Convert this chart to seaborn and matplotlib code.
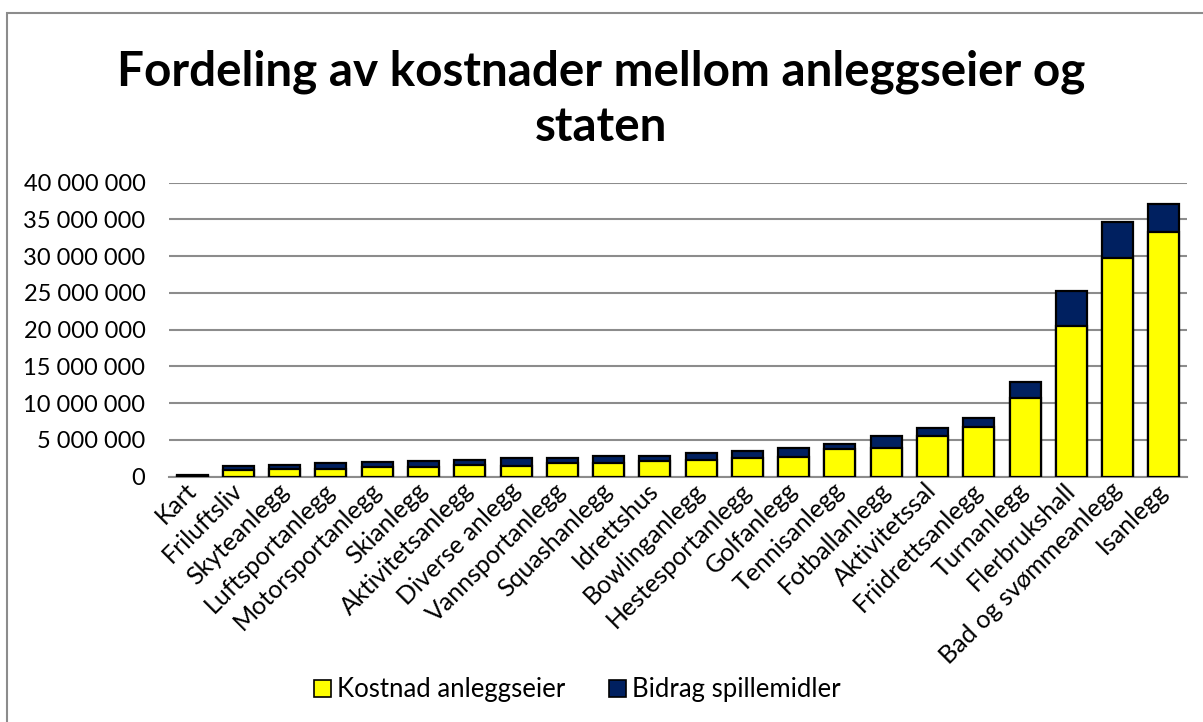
import matplotlib
matplotlib.use("Agg")
import matplotlib.pyplot as plt
import matplotlib.patches as mpatches
from matplotlib.ticker import FuncFormatter
import seaborn as sns
import pandas as pd

categories = ["Kart", "Friluftsliv", "Skyteanlegg", "Luftsportanlegg", "Motorsportanlegg",
              "Skianlegg", "Aktivitetsanlegg", "Diverse anlegg", "Vannsportanlegg",
              "Squashanlegg", "Idrettshus", "Bowlinganlegg", "Hestesportanlegg", "Golfanlegg",
              "Tennisanlegg", "Fotballanlegg", "Aktivitetssal", "Friidrettsanlegg",
              "Turnanlegg", "Flerbrukshall", "Bad og svømmeanlegg", "Isanlegg"]
kostnad_anleggseier = [150000, 870000, 1060000, 1100000, 1330000, 1380000, 1610000, 1510000,
                       1930000, 1930000, 2140000, 2250000, 2570000, 2700000, 3740000, 3870000,
                       5500000, 6720000, 10640000, 20500000, 29750000, 33300000]
bidrag_spillemidler = [100000, 640000, 500000, 730000, 730000, 780000, 730000, 970000,
                       680000, 820000, 710000, 1040000, 940000, 1170000, 760000, 1630000,
                       1170000, 1310000, 2220000, 4770000, 4950000, 3800000]

YELLOW = "#FFFF00"
NAVY = "#002060"

df = pd.DataFrame({"kategori": categories,
                   "kostnad": kostnad_anleggseier,
                   "bidrag": bidrag_spillemidler})
df["total"] = df["kostnad"] + df["bidrag"]

sns.set_theme(style="white")
plt.rcParams["font.family"] = ["Lato", "DejaVu Sans"]
plt.rcParams["text.color"] = "black"
plt.rcParams["xtick.color"] = "black"
plt.rcParams["ytick.color"] = "black"

fig = plt.figure(figsize=(12.03, 7.22), dpi=100)
ax = fig.add_axes([169/1203, 1-476.7/722, (1187-169)/1203, (476.7-182.7)/722])

sns.barplot(data=df, x="kategori", y="total", color=NAVY, saturation=1, width=0.67,
            edgecolor="black", linewidth=1.6, ax=ax, zorder=3)
sns.barplot(data=df, x="kategori", y="kostnad", color=YELLOW, saturation=1, width=0.67,
            edgecolor="black", linewidth=1.6, ax=ax, zorder=4)

ax.set_ylim(0, 40000000)
ax.set_yticks(range(0, 40000001, 5000000))
ax.yaxis.set_major_formatter(FuncFormatter(lambda v, p: f"{int(v):,}".replace(",", " ")))
ax.set_xlim(-0.5, len(categories) - 0.5)
ax.grid(axis="y", color="#8c8c8c", linewidth=1.5, zorder=0)
ax.set_axisbelow(True)
for s in ["top", "right", "left"]:
    ax.spines[s].set_visible(False)
ax.spines["bottom"].set_color("#8c8c8c")
ax.spines["bottom"].set_linewidth(1.5)
ax.set_xlabel("")
ax.set_ylabel("")
ax.tick_params(axis="y", labelsize=17, pad=17, colors="black", length=0)
ax.tick_params(axis="x", labelsize=18, pad=7, length=0, colors="black")
plt.setp(ax.get_xticklabels(), rotation=45, ha="right", va="center", rotation_mode="anchor")

fig.text(0.5, 1-72/722, "Fordeling av kostnader mellom anleggseier og", ha="center", va="center",
         fontsize=34.3, fontweight="bold", color="black")
fig.text(0.5, 1-127/722, "staten", ha="center", va="center", fontsize=34.3, fontweight="bold",
         color="black")

handles = [mpatches.Patch(facecolor=YELLOW, edgecolor="black", linewidth=1.2, label="Kostnad anleggseier"),
           mpatches.Patch(facecolor=NAVY, edgecolor="black", linewidth=1.2, label="Bidrag spillemidler")]
fig.legend(handles=handles, loc="center", bbox_to_anchor=(0.48, 1-690/722), ncol=2, frameon=False,
           fontsize=18.5, handlelength=0.65, handleheight=0.65, handletextpad=0.25,
           columnspacing=1.7, labelcolor="black")

frame = mpatches.Rectangle((7/1203, -0.1), 1.2, 1.1 - 12.7/722, transform=fig.transFigure,
                           fill=False, edgecolor="#8c8c8c", linewidth=1.5, clip_on=False)
fig.patches.append(frame)

fig.savefig("out.png", dpi=100)
